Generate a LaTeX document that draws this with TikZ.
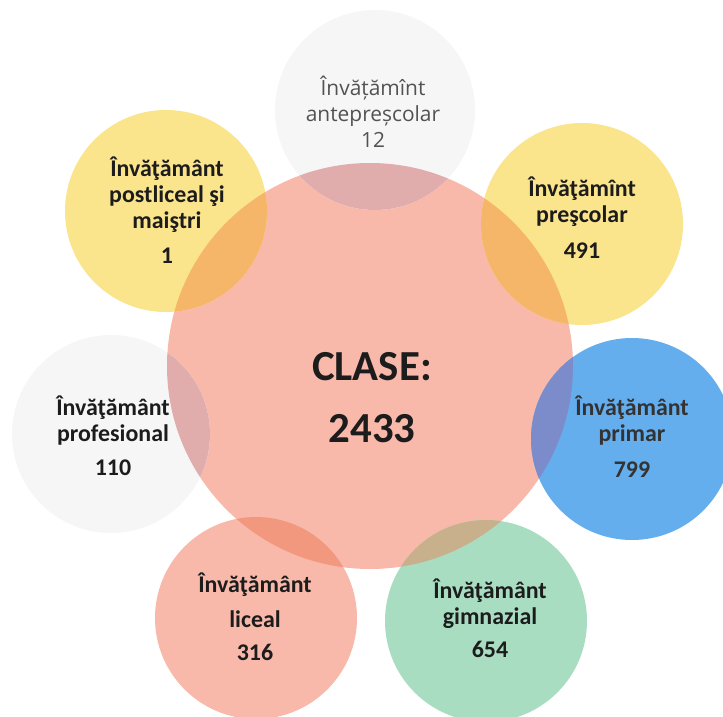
\documentclass[tikz,border=0pt]{standalone}
\usepackage{fontspec}
\setmainfont{Carlito}
\newfontfamily\antefont{Open Sans}

\definecolor{salmon}{RGB}{248,185,170}
\definecolor{yel}{RGB}{250,228,140}
\definecolor{yelov}{RGB}{245,182,105}
\definecolor{pale}{RGB}{246,246,247}
\definecolor{paleov}{RGB}{224,172,172}
\definecolor{sky}{RGB}{100,174,238}
\definecolor{skyov}{RGB}{124,140,202}
\definecolor{mint}{RGB}{168,221,194}
\definecolor{mintov}{RGB}{200,176,140}
\definecolor{pinkov}{RGB}{242,152,126}
\definecolor{ink}{RGB}{28,28,28}

\begin{document}
\begin{tikzpicture}[x=1bp, y=-1bp,
  lbl/.style={align=center, anchor=base, text=ink,
    font=\bfseries\fontsize{24}{26}\selectfont},
  antelbl/.style={align=center, anchor=base, text=black!68,
    font=\antefont\fontsize{21}{26}\selectfont}]
\useasboundingbox (0,0) rectangle (723,717);

% Centres
\coordinate (main) at (370,366);
\coordinate (ante) at (375,110);
\coordinate (post) at (166,211);
\coordinate (presc) at (582,224);
\coordinate (prof) at (111,434);
\coordinate (prim) at (632,439);
\coordinate (lic) at (256,618);
\coordinate (gimn) at (486,621);

% Circles
\fill[salmon] (main) circle (203);
\fill[pale] (ante) circle (100);
\fill[yel] (post) circle (101);
\fill[yel] (presc) circle (101);
\fill[pale] (prof) circle (99);
\fill[sky] (prim) circle (101);
\fill[salmon] (lic) circle (101);
\fill[mint] (gimn) circle (101);

% Overlaps
\begin{scope}
\clip (main) circle (203);
\fill[paleov] (ante) circle (100);
\fill[yelov] (post) circle (101);
\fill[yelov] (presc) circle (101);
\fill[paleov] (prof) circle (99);
\fill[skyov] (prim) circle (101);
\fill[pinkov] (lic) circle (101);
\fill[mintov] (gimn) circle (101);
\end{scope}

% Labels (base = last line)
\node[antelbl] (ante-txt) at (373,147) {Învățămînt\\antepreșcolar\\12};
\node[lbl] (post-txt) at (167,263) {Învăţământ\\postliceal şi\\maiştri\\[9bp]1};
\node[lbl] (presc-txt) at (582,258) {Învăţămînt\\preşcolar\\[10bp]491};
\node[lbl] (prof-txt) at (113,475) {Învăţământ\\profesional\\[8bp]110};
\node[lbl, text=black!80] (prim-txt) at (632,477) {Învăţământ\\primar\\[10bp]799};
\node[lbl] (lic-txt) at (255,660) {Învăţământ\\[9bp]liceal\\[7bp]316};
\node[lbl] (gimn-txt) at (490,657) {Învăţământ\\gimnazial\\[7bp]654};
\node[lbl, font=\bfseries\fontsize{43}{62}\selectfont] (main-txt) at (372,442) {CLASE:\\2433};
\end{tikzpicture}
\end{document}
